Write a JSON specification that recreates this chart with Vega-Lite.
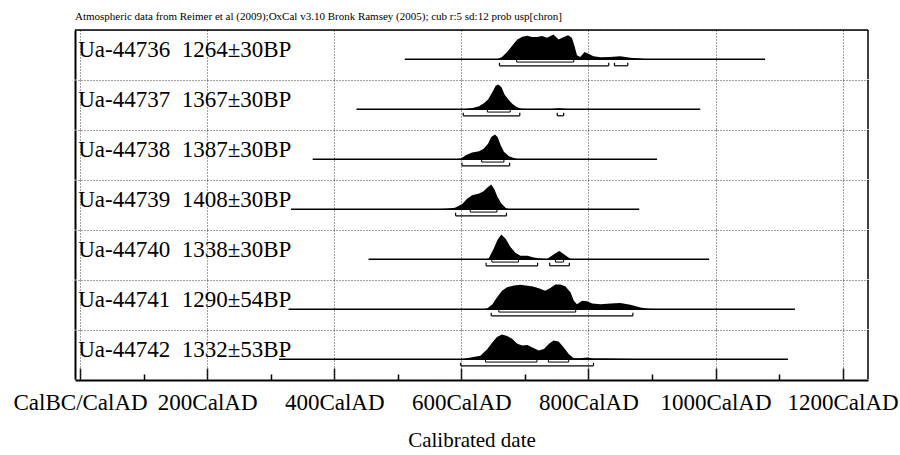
{
  "$schema": "https://vega.github.io/schema/vega-lite/v6.json",
  "padding": {"left": 12, "top": 11, "right": 0, "bottom": 0},
  "background": "white",
  "bounds": "flush",
  "title": {"text": "Atmospheric data from Reimer et al (2009);OxCal v3.10 Bronk Ramsey (2005); cub r:5 sd:12 prob usp[chron]", "anchor": "start", "frame": "group", "font": "Liberation Serif", "fontSize": 11, "fontWeight": "normal", "color": "black", "offset": 7},
  "config": {"view": {"stroke": null}},
  "data": {"values": [
    {"k":"t","s":"Ua-44736","label":"Ua-44736\u00a0\u00a01264\u00b130BP","lo":511,"hi":1078},
    {"k":"t","s":"Ua-44737","label":"Ua-44737\u00a0\u00a01367\u00b130BP","lo":435,"hi":976},
    {"k":"t","s":"Ua-44738","label":"Ua-44738\u00a0\u00a01387\u00b130BP","lo":366,"hi":908},
    {"k":"t","s":"Ua-44739","label":"Ua-44739\u00a0\u00a01408\u00b130BP","lo":332,"hi":880},
    {"k":"t","s":"Ua-44740","label":"Ua-44740\u00a0\u00a01338\u00b130BP","lo":454,"hi":990},
    {"k":"t","s":"Ua-44741","label":"Ua-44741\u00a0\u00a01290\u00b154BP","lo":328,"hi":1125},
    {"k":"t","s":"Ua-44742","label":"Ua-44742\u00a0\u00a01332\u00b153BP","lo":313,"hi":1114},

    {"k":"r","s":"Ua-44736","lev":68,"lo":687,"hi":777},
    {"k":"r","s":"Ua-44736","lev":95,"lo":660,"hi":832},
    {"k":"r","s":"Ua-44736","lev":95,"lo":841,"hi":862},
    {"k":"r","s":"Ua-44737","lev":68,"lo":641,"hi":677},
    {"k":"r","s":"Ua-44737","lev":95,"lo":603,"hi":692},
    {"k":"r","s":"Ua-44737","lev":95,"lo":751,"hi":761},
    {"k":"r","s":"Ua-44738","lev":68,"lo":632,"hi":667},
    {"k":"r","s":"Ua-44738","lev":95,"lo":601,"hi":676},
    {"k":"r","s":"Ua-44739","lev":68,"lo":614,"hi":656},
    {"k":"r","s":"Ua-44739","lev":95,"lo":591,"hi":671},
    {"k":"r","s":"Ua-44740","lev":68,"lo":648,"hi":690},
    {"k":"r","s":"Ua-44740","lev":68,"lo":748,"hi":761},
    {"k":"r","s":"Ua-44740","lev":95,"lo":639,"hi":720},
    {"k":"r","s":"Ua-44740","lev":95,"lo":739,"hi":770},
    {"k":"r","s":"Ua-44741","lev":68,"lo":659,"hi":780},
    {"k":"r","s":"Ua-44741","lev":95,"lo":647,"hi":870},
    {"k":"r","s":"Ua-44742","lev":68,"lo":638,"hi":719},
    {"k":"r","s":"Ua-44742","lev":68,"lo":737,"hi":769},
    {"k":"r","s":"Ua-44742","lev":95,"lo":599,"hi":808},

    {"k":"d","s":"Ua-44736","yr":656,"p":0},
    {"k":"d","s":"Ua-44736","yr":664,"p":0.09},
    {"k":"d","s":"Ua-44736","yr":672,"p":0.29},
    {"k":"d","s":"Ua-44736","yr":680,"p":0.55},
    {"k":"d","s":"Ua-44736","yr":688,"p":0.8},
    {"k":"d","s":"Ua-44736","yr":696,"p":0.91},
    {"k":"d","s":"Ua-44736","yr":704,"p":0.95},
    {"k":"d","s":"Ua-44736","yr":711,"p":0.9},
    {"k":"d","s":"Ua-44736","yr":719,"p":0.9},
    {"k":"d","s":"Ua-44736","yr":727,"p":0.94},
    {"k":"d","s":"Ua-44736","yr":735,"p":0.87},
    {"k":"d","s":"Ua-44736","yr":745,"p":1.0},
    {"k":"d","s":"Ua-44736","yr":753,"p":0.8},
    {"k":"d","s":"Ua-44736","yr":761,"p":0.9},
    {"k":"d","s":"Ua-44736","yr":768,"p":0.97},
    {"k":"d","s":"Ua-44736","yr":774,"p":0.87},
    {"k":"d","s":"Ua-44736","yr":778,"p":0.55},
    {"k":"d","s":"Ua-44736","yr":782,"p":0.16},
    {"k":"d","s":"Ua-44736","yr":787,"p":0.09},
    {"k":"d","s":"Ua-44736","yr":794,"p":0.29},
    {"k":"d","s":"Ua-44736","yr":800,"p":0.22},
    {"k":"d","s":"Ua-44736","yr":808,"p":0.12},
    {"k":"d","s":"Ua-44736","yr":819,"p":0.08},
    {"k":"d","s":"Ua-44736","yr":834,"p":0.09},
    {"k":"d","s":"Ua-44736","yr":850,"p":0.12},
    {"k":"d","s":"Ua-44736","yr":866,"p":0.06},
    {"k":"d","s":"Ua-44736","yr":882,"p":0.03},
    {"k":"d","s":"Ua-44736","yr":892,"p":0},

    {"k":"d","s":"Ua-44737","yr":603,"p":0},
    {"k":"d","s":"Ua-44737","yr":618,"p":0.05},
    {"k":"d","s":"Ua-44737","yr":628,"p":0.12},
    {"k":"d","s":"Ua-44737","yr":636,"p":0.25},
    {"k":"d","s":"Ua-44737","yr":642,"p":0.4},
    {"k":"d","s":"Ua-44737","yr":649,"p":0.7},
    {"k":"d","s":"Ua-44737","yr":654,"p":0.95},
    {"k":"d","s":"Ua-44737","yr":658,"p":1.0},
    {"k":"d","s":"Ua-44737","yr":663,"p":0.9},
    {"k":"d","s":"Ua-44737","yr":668,"p":0.6},
    {"k":"d","s":"Ua-44737","yr":674,"p":0.4},
    {"k":"d","s":"Ua-44737","yr":681,"p":0.2},
    {"k":"d","s":"Ua-44737","yr":688,"p":0.08},
    {"k":"d","s":"Ua-44737","yr":695,"p":0.02},
    {"k":"d","s":"Ua-44737","yr":705,"p":0.01},
    {"k":"d","s":"Ua-44737","yr":742,"p":0.01},
    {"k":"d","s":"Ua-44737","yr":752,"p":0.04},
    {"k":"d","s":"Ua-44737","yr":760,"p":0.03},
    {"k":"d","s":"Ua-44737","yr":768,"p":0},

    {"k":"d","s":"Ua-44738","yr":583,"p":0},
    {"k":"d","s":"Ua-44738","yr":599,"p":0.02},
    {"k":"d","s":"Ua-44738","yr":607,"p":0.16},
    {"k":"d","s":"Ua-44738","yr":617,"p":0.27},
    {"k":"d","s":"Ua-44738","yr":628,"p":0.32},
    {"k":"d","s":"Ua-44738","yr":635,"p":0.43},
    {"k":"d","s":"Ua-44738","yr":642,"p":0.63},
    {"k":"d","s":"Ua-44738","yr":647,"p":0.9},
    {"k":"d","s":"Ua-44738","yr":653,"p":1.0},
    {"k":"d","s":"Ua-44738","yr":657,"p":0.9},
    {"k":"d","s":"Ua-44738","yr":662,"p":0.57},
    {"k":"d","s":"Ua-44738","yr":667,"p":0.3},
    {"k":"d","s":"Ua-44738","yr":675,"p":0.12},
    {"k":"d","s":"Ua-44738","yr":685,"p":0.03},
    {"k":"d","s":"Ua-44738","yr":691,"p":0},

    {"k":"d","s":"Ua-44739","yr":552,"p":0},
    {"k":"d","s":"Ua-44739","yr":575,"p":0.02},
    {"k":"d","s":"Ua-44739","yr":590,"p":0.06},
    {"k":"d","s":"Ua-44739","yr":601,"p":0.2},
    {"k":"d","s":"Ua-44739","yr":609,"p":0.43},
    {"k":"d","s":"Ua-44739","yr":617,"p":0.57},
    {"k":"d","s":"Ua-44739","yr":628,"p":0.64},
    {"k":"d","s":"Ua-44739","yr":635,"p":0.73},
    {"k":"d","s":"Ua-44739","yr":642,"p":0.9},
    {"k":"d","s":"Ua-44739","yr":647,"p":1.0},
    {"k":"d","s":"Ua-44739","yr":652,"p":0.81},
    {"k":"d","s":"Ua-44739","yr":657,"p":0.5},
    {"k":"d","s":"Ua-44739","yr":663,"p":0.23},
    {"k":"d","s":"Ua-44739","yr":670,"p":0.05},
    {"k":"d","s":"Ua-44739","yr":675,"p":0},

    {"k":"d","s":"Ua-44740","yr":638,"p":0},
    {"k":"d","s":"Ua-44740","yr":643,"p":0.03},
    {"k":"d","s":"Ua-44740","yr":651,"p":0.44},
    {"k":"d","s":"Ua-44740","yr":657,"p":0.79},
    {"k":"d","s":"Ua-44740","yr":663,"p":1.0},
    {"k":"d","s":"Ua-44740","yr":670,"p":0.82},
    {"k":"d","s":"Ua-44740","yr":677,"p":0.51},
    {"k":"d","s":"Ua-44740","yr":685,"p":0.26},
    {"k":"d","s":"Ua-44740","yr":693,"p":0.14},
    {"k":"d","s":"Ua-44740","yr":704,"p":0.14},
    {"k":"d","s":"Ua-44740","yr":714,"p":0.07},
    {"k":"d","s":"Ua-44740","yr":725,"p":0.03},
    {"k":"d","s":"Ua-44740","yr":735,"p":0.01},
    {"k":"d","s":"Ua-44740","yr":740,"p":0.1},
    {"k":"d","s":"Ua-44740","yr":748,"p":0.24},
    {"k":"d","s":"Ua-44740","yr":754,"p":0.33},
    {"k":"d","s":"Ua-44740","yr":761,"p":0.21},
    {"k":"d","s":"Ua-44740","yr":769,"p":0.06},
    {"k":"d","s":"Ua-44740","yr":774,"p":0},

    {"k":"d","s":"Ua-44741","yr":635,"p":0},
    {"k":"d","s":"Ua-44741","yr":641,"p":0.04},
    {"k":"d","s":"Ua-44741","yr":649,"p":0.2},
    {"k":"d","s":"Ua-44741","yr":656,"p":0.48},
    {"k":"d","s":"Ua-44741","yr":664,"p":0.75},
    {"k":"d","s":"Ua-44741","yr":672,"p":0.89},
    {"k":"d","s":"Ua-44741","yr":683,"p":0.96},
    {"k":"d","s":"Ua-44741","yr":693,"p":0.99},
    {"k":"d","s":"Ua-44741","yr":701,"p":0.96},
    {"k":"d","s":"Ua-44741","yr":711,"p":0.93},
    {"k":"d","s":"Ua-44741","yr":722,"p":0.85},
    {"k":"d","s":"Ua-44741","yr":732,"p":0.75},
    {"k":"d","s":"Ua-44741","yr":740,"p":0.86},
    {"k":"d","s":"Ua-44741","yr":748,"p":1.0},
    {"k":"d","s":"Ua-44741","yr":756,"p":1.0},
    {"k":"d","s":"Ua-44741","yr":764,"p":0.92},
    {"k":"d","s":"Ua-44741","yr":772,"p":0.68},
    {"k":"d","s":"Ua-44741","yr":777,"p":0.34},
    {"k":"d","s":"Ua-44741","yr":782,"p":0.2},
    {"k":"d","s":"Ua-44741","yr":790,"p":0.34},
    {"k":"d","s":"Ua-44741","yr":798,"p":0.32},
    {"k":"d","s":"Ua-44741","yr":806,"p":0.23},
    {"k":"d","s":"Ua-44741","yr":819,"p":0.2},
    {"k":"d","s":"Ua-44741","yr":835,"p":0.23},
    {"k":"d","s":"Ua-44741","yr":850,"p":0.25},
    {"k":"d","s":"Ua-44741","yr":866,"p":0.18},
    {"k":"d","s":"Ua-44741","yr":882,"p":0.07},
    {"k":"d","s":"Ua-44741","yr":895,"p":0.02},
    {"k":"d","s":"Ua-44741","yr":920,"p":0},

    {"k":"d","s":"Ua-44742","yr":599,"p":0},
    {"k":"d","s":"Ua-44742","yr":615,"p":0.07},
    {"k":"d","s":"Ua-44742","yr":630,"p":0.14},
    {"k":"d","s":"Ua-44742","yr":641,"p":0.42},
    {"k":"d","s":"Ua-44742","yr":649,"p":0.69},
    {"k":"d","s":"Ua-44742","yr":656,"p":0.9},
    {"k":"d","s":"Ua-44742","yr":664,"p":1.0},
    {"k":"d","s":"Ua-44742","yr":672,"p":0.94},
    {"k":"d","s":"Ua-44742","yr":680,"p":0.83},
    {"k":"d","s":"Ua-44742","yr":688,"p":0.63},
    {"k":"d","s":"Ua-44742","yr":696,"p":0.56},
    {"k":"d","s":"Ua-44742","yr":704,"p":0.58},
    {"k":"d","s":"Ua-44742","yr":711,"p":0.49},
    {"k":"d","s":"Ua-44742","yr":722,"p":0.35},
    {"k":"d","s":"Ua-44742","yr":730,"p":0.42},
    {"k":"d","s":"Ua-44742","yr":738,"p":0.63},
    {"k":"d","s":"Ua-44742","yr":745,"p":0.76},
    {"k":"d","s":"Ua-44742","yr":753,"p":0.72},
    {"k":"d","s":"Ua-44742","yr":761,"p":0.49},
    {"k":"d","s":"Ua-44742","yr":769,"p":0.21},
    {"k":"d","s":"Ua-44742","yr":777,"p":0.04},
    {"k":"d","s":"Ua-44742","yr":787,"p":0.04},
    {"k":"d","s":"Ua-44742","yr":798,"p":0.07},
    {"k":"d","s":"Ua-44742","yr":808,"p":0.03},
    {"k":"d","s":"Ua-44742","yr":829,"p":0.03},
    {"k":"d","s":"Ua-44742","yr":850,"p":0.02},
    {"k":"d","s":"Ua-44742","yr":871,"p":0.01},
    {"k":"d","s":"Ua-44742","yr":882,"p":0}
  ]},
  "facet": {"row": {"field": "s", "type": "nominal", "sort": "ascending", "header": {"labels": false, "title": null}}},
  "spacing": 0,
  "spec": {
    "width": 793,
    "height": 49.2,
    "layer": [
      {
        "transform": [{"filter": "datum.k == 'd'"}],
        "mark": {"type": "area", "color": "black", "interpolate": "linear"},
        "encoding": {
          "x": {"field": "yr", "type": "quantitative", "title": "Calibrated date",
            "scale": {"domain": [-8, 1240], "nice": false, "zero": false},
            "axis": {
              "values": [0,100,200,300,400,500,600,700,800,900,1000,1100,1200],
              "labelExpr": "datum.value == 0 ? 'CalBC/CalAD' : (datum.value % 200 == 0 ? datum.value + 'CalAD' : '')",
              "labelFont": "Liberation Serif", "labelFontSize": 23, "labelColor": "black",
              "labelFlush": false, "labelOverlap": false, "labelPadding": 23,
              "tickSize": {"condition": {"test": "datum.value % 200 == 0", "value": -12}, "value": -6},
              "tickColor": "black", "tickWidth": 1.5,
              "domainColor": "black", "domainWidth": 2,
              "grid": true, "gridDash": [1, 2], "gridColor": "#444",
              "gridOpacity": {"condition": {"test": "datum.value % 200 == 0", "value": 1}, "value": 0},
              "titleFont": "Liberation Serif", "titleFontSize": 21, "titleFontWeight": "normal", "titleColor": "black", "titlePadding": 9
            }
          },
          "y": {"field": "p", "type": "quantitative",
            "scale": {"domain": [-0.8, 1.18], "nice": false, "zero": false},
            "axis": {"title": null, "labels": false, "ticks": false, "domain": true, "domainColor": "black", "domainWidth": 2,
              "grid": true, "values": [1.18], "gridDash": [1, 2], "gridColor": "#444"}
          },
          "y2": {"datum": 0}
        }
      },
      {
        "transform": [{"filter": "datum.k == 't'"}],
        "mark": {"type": "rule", "color": "black", "strokeWidth": 1.6},
        "encoding": {
          "x": {"field": "lo", "type": "quantitative", "title": "Calibrated date"},
          "x2": {"field": "hi"},
          "y": {"datum": 0}
        }
      },
      {
        "transform": [{"filter": "datum.k == 'r' && datum.lev == 68"}],
        "mark": {"type": "rule", "color": "black", "strokeWidth": 1},
        "encoding": {
          "x": {"field": "lo", "type": "quantitative", "title": "Calibrated date"},
          "x2": {"field": "hi"},
          "y": {"datum": -0.11}
        }
      },
      {
        "transform": [{"filter": "datum.k == 'r' && datum.lev == 68"}, {"fold": ["lo", "hi"], "as": ["end", "v"]}],
        "mark": {"type": "rule", "color": "black", "strokeWidth": 1},
        "encoding": {
          "x": {"field": "v", "type": "quantitative", "title": "Calibrated date"},
          "y": {"datum": -0.11},
          "y2": {"datum": -0.02}
        }
      },
      {
        "transform": [{"filter": "datum.k == 'r' && datum.lev == 95"}],
        "mark": {"type": "rule", "color": "black", "strokeWidth": 1.2},
        "encoding": {
          "x": {"field": "lo", "type": "quantitative", "title": "Calibrated date"},
          "x2": {"field": "hi"},
          "y": {"datum": -0.26}
        }
      },
      {
        "transform": [{"filter": "datum.k == 'r' && datum.lev == 95"}, {"fold": ["lo", "hi"], "as": ["end", "v"]}],
        "mark": {"type": "rule", "color": "black", "strokeWidth": 1.2},
        "encoding": {
          "x": {"field": "v", "type": "quantitative", "title": "Calibrated date"},
          "y": {"datum": -0.26},
          "y2": {"datum": -0.14}
        }
      },
      {
        "transform": [{"filter": "datum.k == 't'"}],
        "mark": {"type": "text", "align": "left", "baseline": "alphabetic", "font": "Liberation Serif", "fontSize": 23, "color": "black"},
        "encoding": {
          "x": {"datum": -3},
          "y": {"datum": 0.1},
          "text": {"field": "label"}
        }
      },
      {
        "transform": [{"filter": "datum.k == 't'"}],
        "mark": {"type": "rule", "color": "black", "strokeWidth": 1.5},
        "encoding": {
          "x": {"datum": 1240}
        }
      },
      {
        "transform": [{"filter": "datum.k == 't' && datum.s == 'Ua-44736'"}],
        "mark": {"type": "rule", "color": "black", "strokeWidth": 1.5},
        "encoding": {
          "x": {"datum": -8},
          "x2": {"datum": 1240},
          "y": {"datum": 1.18}
        }
      }
    ]
  }
}
